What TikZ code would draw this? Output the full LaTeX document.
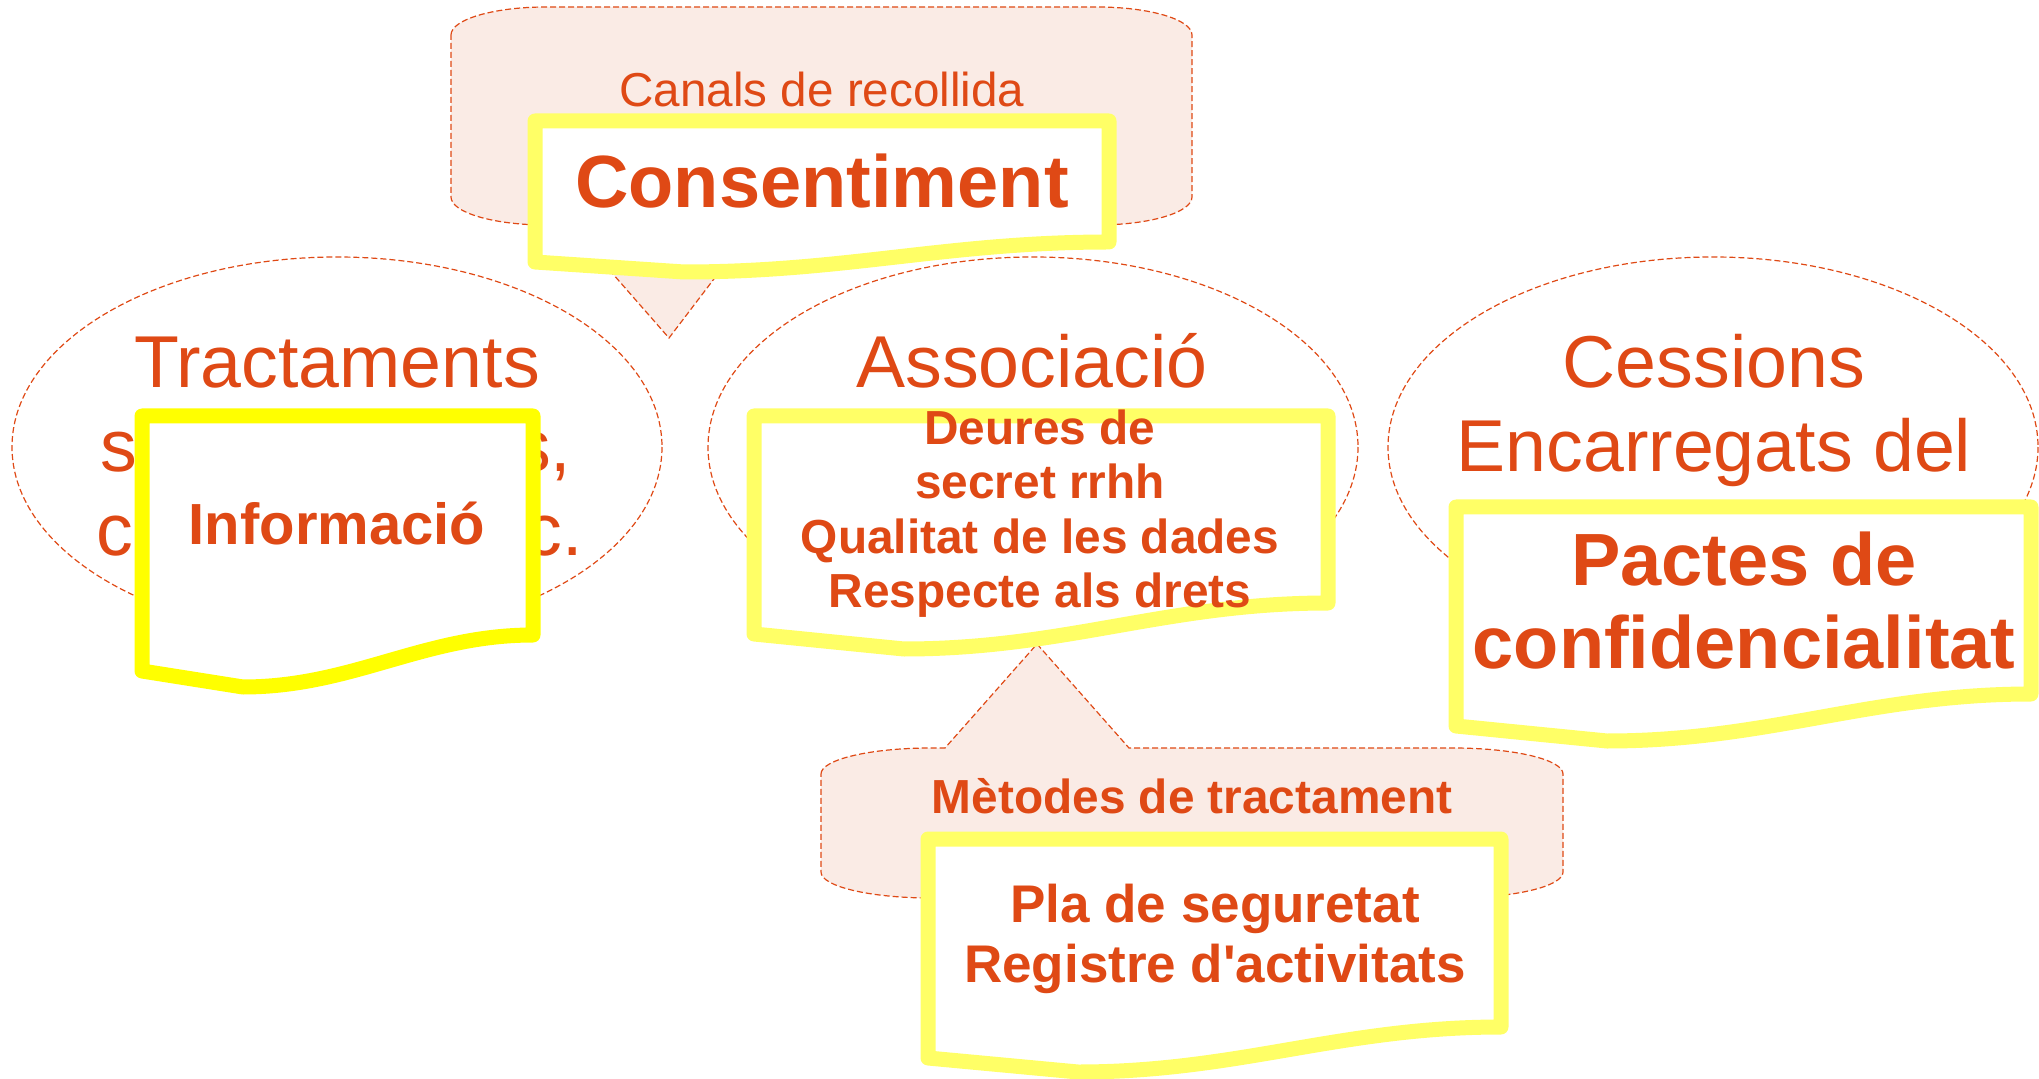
\documentclass[tikz,border=0pt]{standalone}
\usepackage{fontspec}
\setmainfont{Liberation Sans}
\definecolor{txt}{HTML}{DF4915}
\definecolor{yel}{HTML}{FFFF66}
\definecolor{yelB}{HTML}{FFFF00}
\definecolor{pinkfill}{HTML}{FAEBE5}
\tikzset{
  bubble/.style={draw=txt, line width=0.6pt, dash pattern=on 3pt off 1.5pt},
  callout/.style={bubble, fill=pinkfill},
  docbox/.style={draw=yel, fill=white, line width=7.5pt, line join=round},
  docboxB/.style={docbox, draw=yelB},
  big/.style={text=txt, inner sep=0pt, anchor=base, font=\fontsize{36.75}{42}\selectfont},
  bigb/.style={text=txt, inner sep=0pt, anchor=base, font=\fontsize{37}{42}\selectfont\bfseries},
  midb/.style={text=txt, inner sep=0pt, anchor=base, font=\fontsize{23.9}{27}\selectfont\bfseries},
  mid/.style={text=txt, inner sep=0pt, anchor=base, font=\fontsize{23.8}{27}\selectfont},
  infob/.style={text=txt, inner sep=0pt, anchor=base, font=\fontsize{29}{33}\selectfont\bfseries},
  plab/.style={text=txt, inner sep=0pt, anchor=base, font=\fontsize{26.5}{30}\selectfont\bfseries},
}
\begin{document}
\begin{tikzpicture}[x=0.5pt, y=-0.5pt]
\useasboundingbox (0,0) rectangle (2039,1079);

% ellipses
\draw[bubble] (337,447) ellipse [x radius=325, y radius=190];
\draw[bubble] (1033,447) ellipse [x radius=325, y radius=190];
\draw[bubble] (1713,447) ellipse [x radius=325, y radius=190];

% top callout
\draw[callout] (451,35) .. controls (451,19.5) and (493.5,7) .. (546,7)
  -- (1097,7) .. controls (1149.5,7) and (1192,19.5) .. (1192,35)
  -- (1192,197) .. controls (1192,212.5) and (1149.5,225) .. (1097,225)
  -- (755,225) -- (669,338) -- (570,225) -- (546,225)
  .. controls (493.5,225) and (451,212.5) .. (451,197) -- cycle;

% bottom callout
\draw[callout] (821,774) .. controls (821,759.6) and (870,748) .. (931,748)
  -- (945,748) -- (1037,644) -- (1129,748) -- (1453,748)
  .. controls (1514,748) and (1563,759.6) .. (1563,774)
  -- (1563,872) .. controls (1563,886.4) and (1514,898) .. (1453,898)
  -- (931,898) .. controls (870,898) and (821,886.4) .. (821,872) -- cycle;

% ellipse texts
\node[big] (t1a) at (337,388) {Tractaments};
\node[big] (t1b) at (336,472) {salut,\hspace{0.4em}menors,};
\node[big] (t1c) at (340,555) {col·lectius, etc.};
\node[big] (t2a) at (1032,388) {Associació};
\node[big] (t3a) at (1714,388) {Cessions};
\node[big] (t3b) at (1714,472) {Encarregats del};

% callout texts
\node[mid] (c1) at (822,107) {Canals de recollida};
\node[midb] (c2) at (1192,813) {Mètodes de tractament};

% document boxes
\draw[docboxB] (142,416) -- (533,416) -- (533,635)
  .. controls (423.5,635) and (352.5,687) .. (243,687) -- (142,671) -- cycle;
\node[infob] (b0) at (337,545) {Informació};

\draw[docbox] (535,121) -- (1109,121) -- (1109,242)
  .. controls (948,242) and (845,272) .. (684,272) -- (535,262) -- cycle;
\node[bigb] (b1) at (822,208) {Consentiment};

\draw[docbox] (754,416) -- (1328,416) -- (1328,603)
  .. controls (1167,603) and (1065,649) .. (904,649) -- (754,634) -- cycle;
\node[midb] (b2a) at (1040,445) {Deures de};
\node[midb] (b2b) at (1040,499) {secret rrhh};
\node[midb] (b2c) at (1040,553) {Qualitat de les dades};
\node[midb] (b2d) at (1040,607) {Respecte als drets};

\draw[docbox] (1456,507) -- (2031,507) -- (2031,694)
  .. controls (1870,694) and (1768,741) .. (1607,741) -- (1456,726) -- cycle;
\node[bigb] (b3a) at (1744,585) {Pactes de};
\node[bigb] (b3b) at (1744,668) {confidencialitat};

\draw[docbox] (928,839) -- (1501,839) -- (1501,1027)
  .. controls (1341,1027) and (1238,1072) .. (1078,1072) -- (928,1058) -- cycle;
\node[plab] (b4a) at (1215,922) {Pla de seguretat};
\node[plab] (b4b) at (1215,982) {Registre d\textquotesingle activitats};
\end{tikzpicture}
\end{document}
